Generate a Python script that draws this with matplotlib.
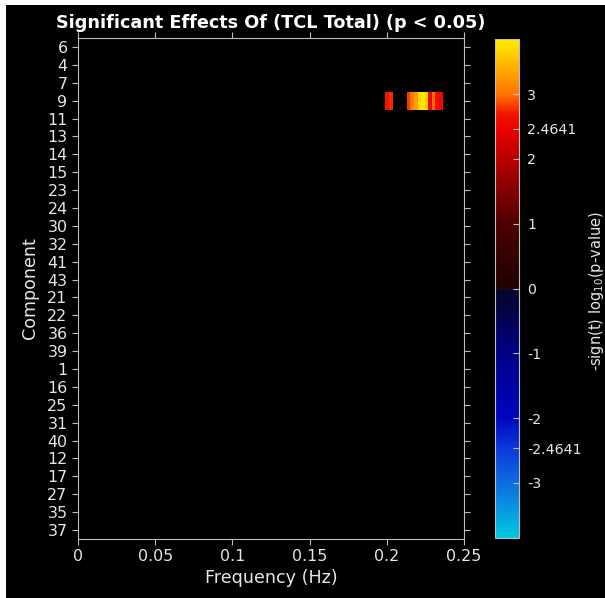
import numpy as np
import matplotlib
matplotlib.use("Agg")
import matplotlib.pyplot as plt
from matplotlib.colors import LinearSegmentedColormap
from matplotlib.patches import Rectangle

# ---- data ----
components = [6, 4, 7, 9, 11, 13, 14, 15, 23, 24, 30, 32, 41, 43,
              21, 22, 36, 39, 1, 16, 25, 31, 40, 12, 17, 27, 35, 37]
freq_max = 0.25
n_bins = 108
sig_component = 9
sig_freqs = [0.20023, 0.20255, 0.21412, 0.21644, 0.21875, 0.22106,
             0.22338, 0.22569, 0.22801, 0.23032, 0.23264, 0.23495]
sig_values = [2.7, 2.75, 2.8, 3.05, 3.3, 3.7, 3.8, 3.65, 2.55, 2.95, 2.6, 2.55]
threshold = 2.4641
cmax = 3.85
cbar_ticks = [-3, -threshold, -2, -1, 0, 1, 2, threshold, 3]
cbar_ticklabels = ["-3", "-2.4641", "-2", "-1", "0", "1", "2", "2.4641", "3"]
xticks = [0, 0.05, 0.1, 0.15, 0.2, 0.25]
xticklabels = ["0", "0.05", "0.1", "0.15", "0.2", "0.25"]

# ---- build grid ----
freq_edges = np.linspace(0, freq_max, n_bins + 1)
data = np.full((len(components), n_bins), np.nan)
row = components.index(sig_component)
for f, v in zip(sig_freqs, sig_values):
    col = int(np.searchsorted(freq_edges, f) - 1)
    data[row, col] = v
data = np.ma.masked_invalid(data)

# ---- colormap ----
def pos(v):
    return (v + cmax) / (2 * cmax)

anchors = [
    (-cmax, (0.0, 0.78, 0.88)),
    (-3.0, (0.05, 0.42, 0.88)),
    (-threshold, (0.05, 0.22, 0.85)),
    (-2.0, (0.0, 0.02, 0.75)),
    (-1.0, (0.0, 0.0, 0.52)),
    (-0.02, (0.02, 0.02, 0.16)),
    (0.0, (0.25, 0.05, 0.1)),
    (0.02, (0.12, 0.0, 0.0)),
    (1.0, (0.3, 0.0, 0.0)),
    (2.0, (0.72, 0.0, 0.0)),
    (threshold, (0.92, 0.0, 0.0)),
    (2.7, (0.95, 0.08, 0.0)),
    (3.0, (1.0, 0.45, 0.0)),
    (cmax, (1.0, 0.92, 0.0)),
]
cmap = LinearSegmentedColormap.from_list("sig", [(pos(v), c) for v, c in anchors])

text_col = "#e6e6e6"
tick_col = "#bdbdbd"

fig = plt.figure(figsize=(6.05, 5.98), dpi=100)
fig.patch.set_facecolor("white")
fig.add_artist(Rectangle((6 / 605, 0), 1, 1 - 5 / 598, transform=fig.transFigure,
                         facecolor="black", edgecolor="none", zorder=-10))

ax = fig.add_axes([78 / 605, 59 / 598, 386 / 605, 501 / 598])
ax.set_facecolor("black")
mesh = ax.pcolormesh(freq_edges, np.arange(len(components) + 1), data,
                     cmap=cmap, vmin=-cmax, vmax=cmax)
ax.set_xlim(0, freq_max)
ax.set_ylim(len(components), 0)
ax.set_yticks(np.arange(len(components)) + 0.5)
ax.set_yticklabels([str(c) for c in components])
ax.set_xticks(xticks)
ax.set_xticklabels(xticklabels)
ax.tick_params(direction="out", top=True, right=True, labeltop=False, labelright=False,
               colors=tick_col, labelcolor=text_col, labelsize=11.4, length=4, width=0.8)
for s in ax.spines.values():
    s.set_color(tick_col)
    s.set_linewidth(0.8)
ax.set_xlabel("Frequency (Hz)", color=text_col, fontsize=12.6, labelpad=3)
ax.set_ylabel("Component", color=text_col, fontsize=12.6, labelpad=6)
ax.set_title("Significant Effects Of (TCL Total) (p < 0.05)", color="white",
             fontsize=12.7, fontweight="bold", pad=7)

cax = fig.add_axes([495 / 605, 60 / 598, 24 / 605, 499 / 598])
cb = fig.colorbar(mesh, cax=cax)
cb.set_ticks(cbar_ticks)
cb.set_ticklabels(cbar_ticklabels)
cax.tick_params(direction="in", colors=tick_col, labelcolor=text_col, labelsize=10.2,
                length=4, width=0.8, pad=6)
cb.outline.set_edgecolor(tick_col)
cb.outline.set_linewidth(0.8)
fig.text(597 / 605, 1 - 291 / 598, r"-sign(t) log$_{10}$(p-value)", rotation=90,
         color=text_col, fontsize=10.5, ha="center", va="center")

fig.savefig("out.png", dpi=100, facecolor=fig.get_facecolor())
